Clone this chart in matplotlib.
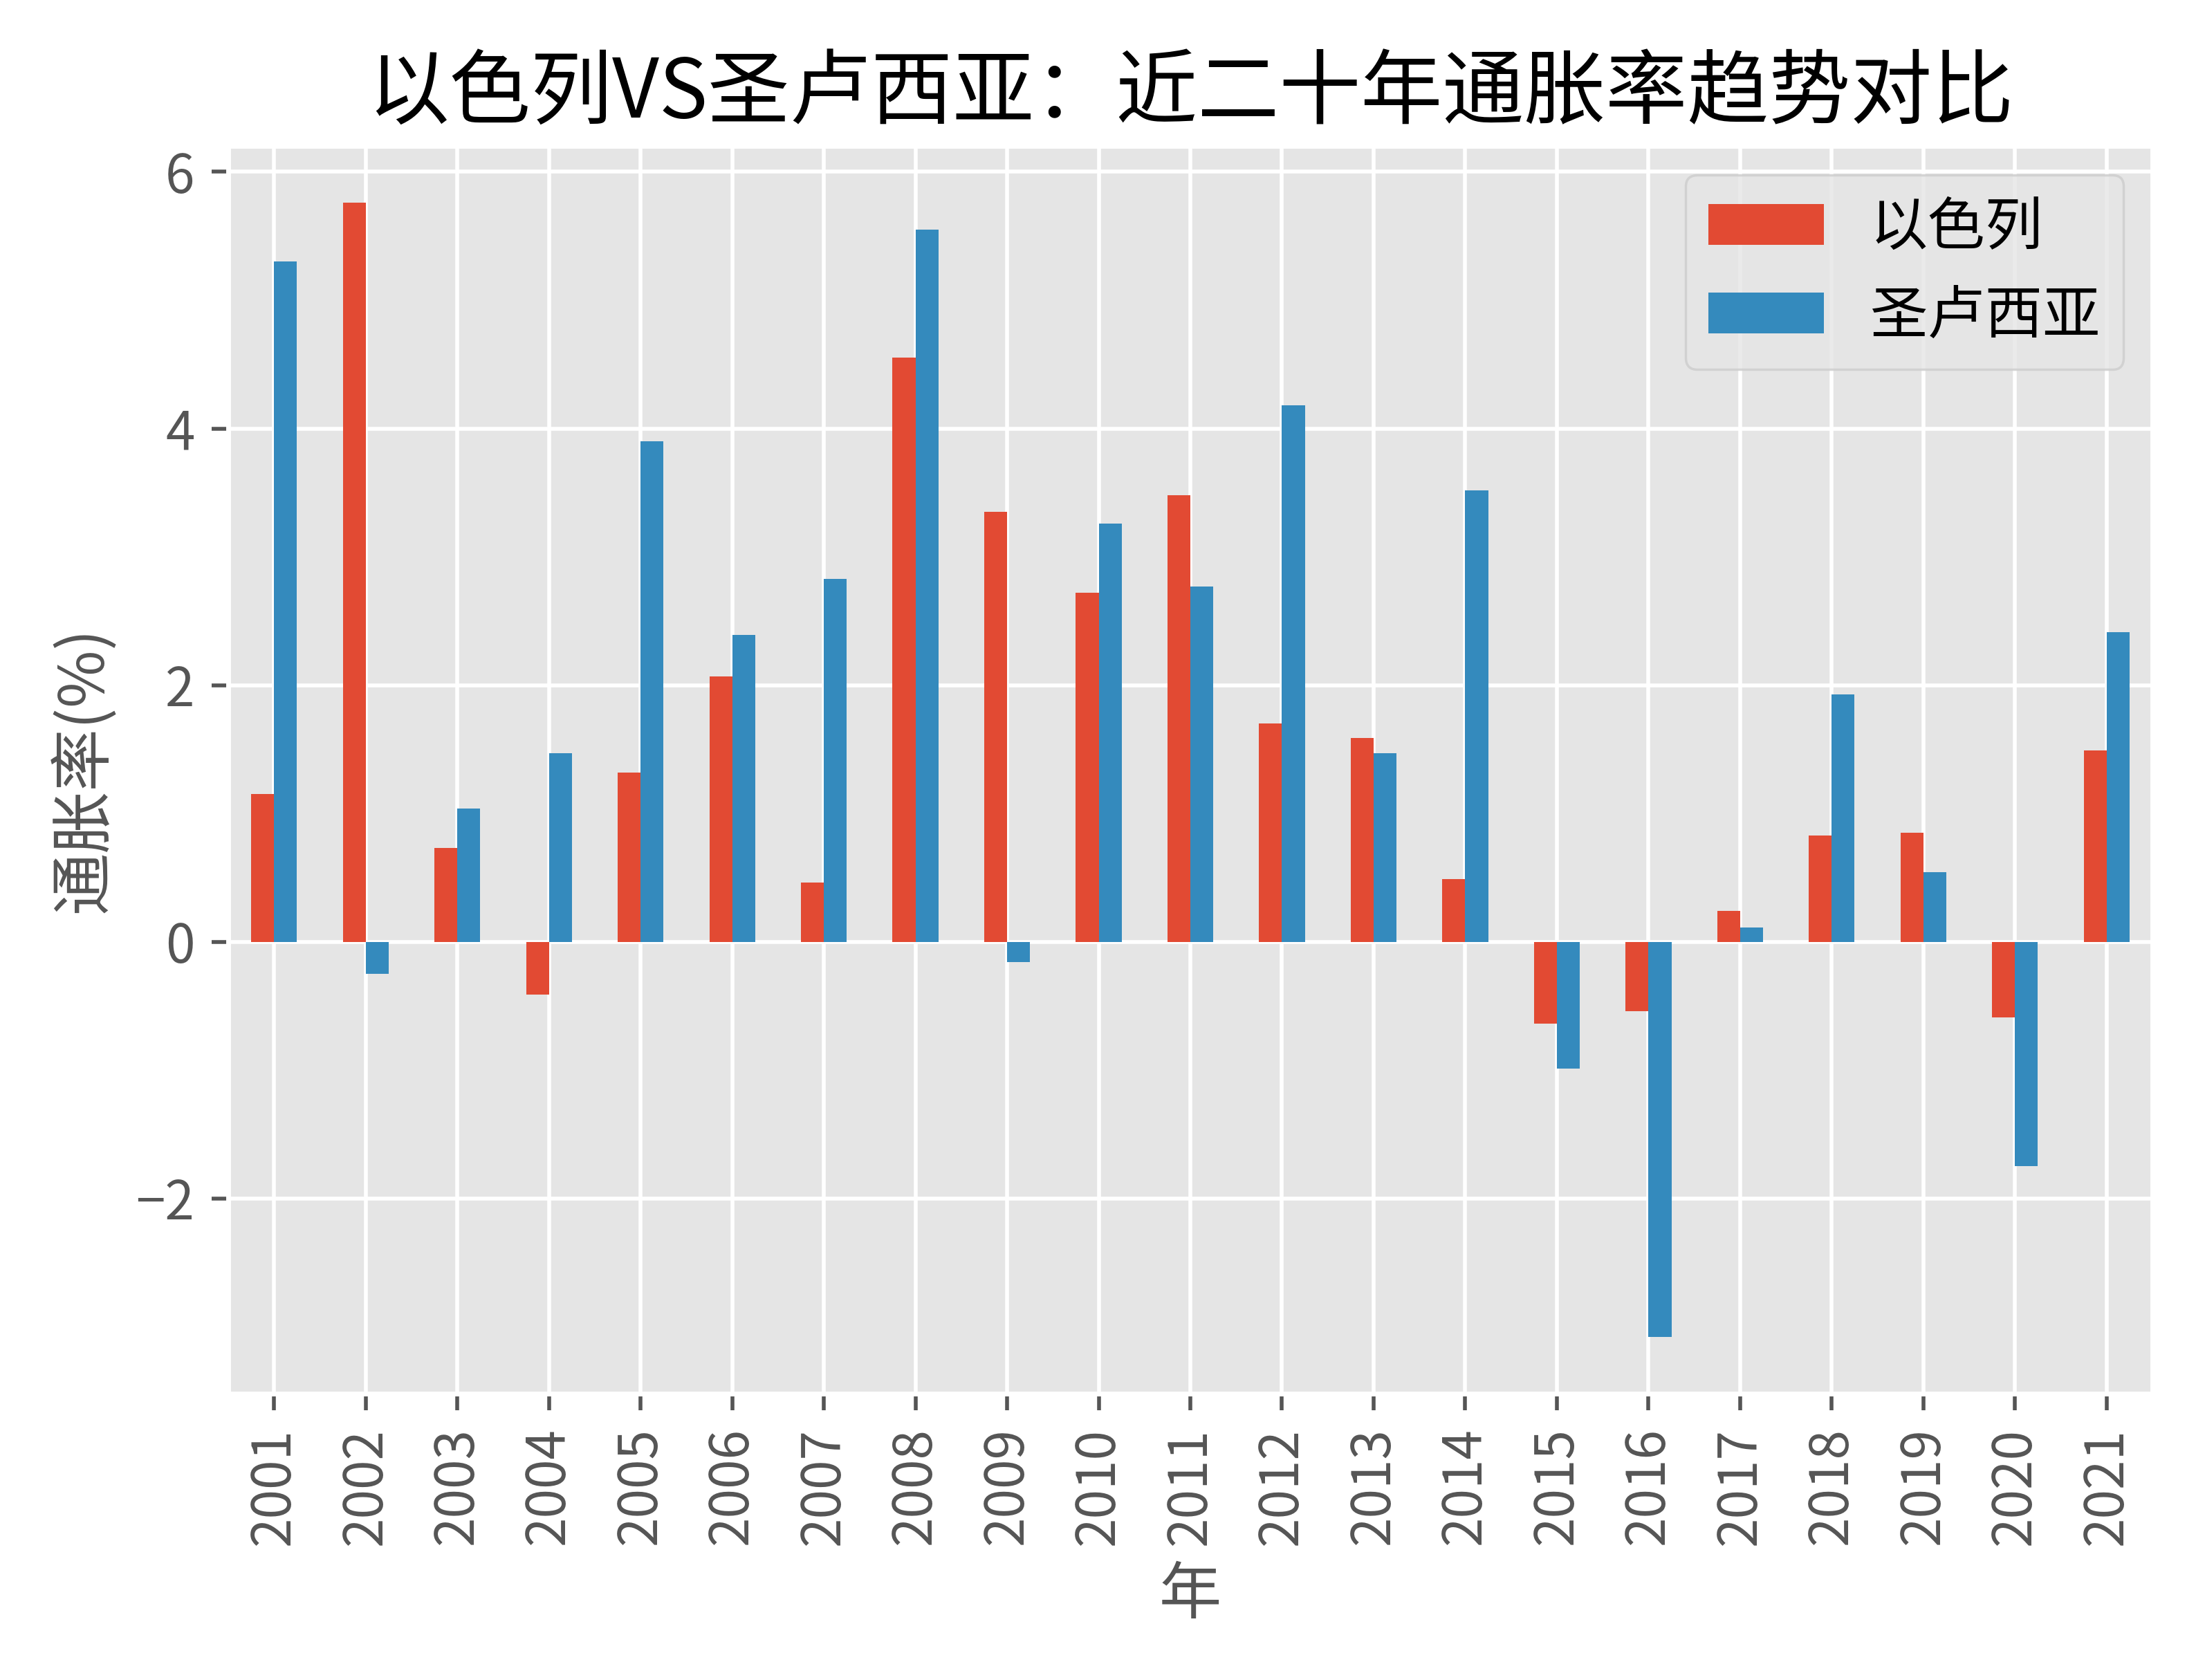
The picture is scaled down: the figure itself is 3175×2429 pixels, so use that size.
import numpy as np
import pandas as pd
import matplotlib
matplotlib.use('Agg')
import matplotlib.pyplot as plt

plt.style.use('ggplot')
plt.rcParams['font.family'] = ['Noto Sans CJK SC', 'DejaVu Sans']
plt.rcParams['xtick.labelsize'] = 11
plt.rcParams['ytick.labelsize'] = 11

years = [str(y) for y in range(2001, 2022)]
israel = [1.15, 5.76, 0.73, -0.41, 1.32, 2.07, 0.46, 4.55, 3.35, 2.72, 3.48,
          1.70, 1.59, 0.49, -0.64, -0.54, 0.24, 0.83, 0.85, -0.59, 1.49]
st_lucia = [5.30, -0.25, 1.04, 1.47, 3.90, 2.39, 2.83, 5.55, -0.16, 3.26, 2.77,
            4.18, 1.47, 3.52, -0.99, -3.08, 0.11, 1.93, 0.54, -1.75, 2.41]

df = pd.DataFrame({'以色列': israel, '圣卢西亚': st_lucia}, index=years)

fig = plt.figure(figsize=(6.35, 4.858), dpi=500)
ax = fig.add_axes([330 / 3175, 1 - 2015 / 2429, (3112 - 330) / 3175, (2015 - 211) / 2429])
df.plot.bar(ax=ax)

ax.set_title('以色列VS圣卢西亚：近二十年通胀率趋势对比', fontsize=17, color='black',
             fontweight='medium')
ax.set_xlabel('年', fontsize=13)
ax.set_ylabel('通胀率(%)', fontsize=13)
ax.legend(loc='upper right', fontsize=12)

fig.savefig('out.png', dpi=500)
